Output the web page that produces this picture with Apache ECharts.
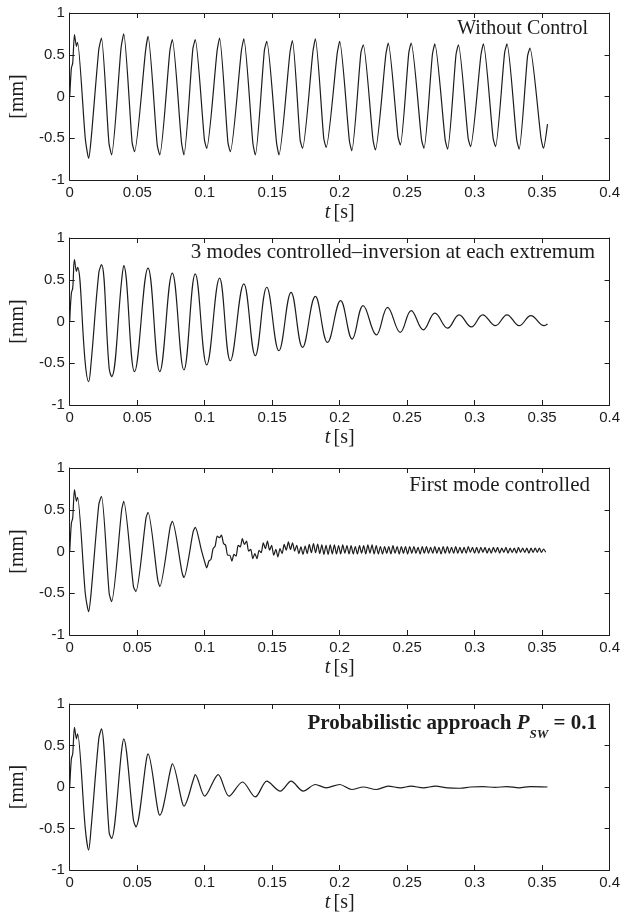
<!DOCTYPE html>
<html>
<head>
<meta charset="utf-8">
<script src="https://cdn.jsdelivr.net/npm/echarts/dist/echarts.min.js"></script>
<style>
html,body{margin:0;padding:0;background:#fff;}
#c{width:623px;height:921px;}
</style>
</head>
<body>
<div id="c"></div>
<script>
// ---------------- data ----------------
const xTicks = [0, 0.05, 0.1, 0.15, 0.2, 0.25, 0.3, 0.35, 0.4];
const yTicks = [-1, -0.5, 0, 0.5, 1];
const panelTitles = [
  'Without Control',
  '3 modes controlled\u2013inversion at each extremum',
  'First mode controlled',
  'Probabilistic approach P_SW = 0.1'
];

// Panel 1: without control  [t (s), displacement (mm)]
const noControl = [
 [0,0],[0.0012,0.34],[0.0022,0.40],[0.0035,0.74],[0.0050,0.60],[0.0058,0.65],[0.0115,-0.50],[0.0140,-0.74],[0.0158,-0.52],
 [0.0215,0.56],[0.0235,0.70],[0.0290,-0.55],[0.0310,-0.70],
 [0.0380,0.58],[0.0400,0.75],[0.0462,-0.55],[0.0480,-0.66],
 [0.0562,0.55],[0.0580,0.72],[0.0648,-0.58],[0.0667,-0.70],
 [0.0742,0.55],[0.0760,0.68],[0.0828,-0.55],[0.0846,-0.70],
 [0.0912,0.57],[0.0930,0.68],[0.0998,-0.52],[0.1015,-0.62],
 [0.1092,0.55],[0.1110,0.70],[0.1172,-0.55],[0.1190,-0.66],
 [0.1272,0.55],[0.1290,0.69],[0.1357,-0.56],[0.1375,-0.70],
 [0.1442,0.55],[0.1460,0.66],[0.1532,-0.55],[0.1550,-0.70],
 [0.1632,0.53],[0.1650,0.67],[0.1707,-0.52],[0.1725,-0.62],
 [0.1802,0.54],[0.1820,0.69],[0.1882,-0.50],[0.1900,-0.61],
 [0.1982,0.52],[0.2000,0.66],[0.2072,-0.53],[0.2090,-0.65],
 [0.2157,0.52],[0.2175,0.62],[0.2247,-0.52],[0.2265,-0.64],
 [0.2342,0.50],[0.2360,0.64],[0.2432,-0.48],[0.2450,-0.58],
 [0.2512,0.52],[0.2530,0.64],[0.2607,-0.52],[0.2625,-0.62],
 [0.2687,0.50],[0.2705,0.63],[0.2782,-0.52],[0.2800,-0.63],
 [0.2862,0.50],[0.2880,0.62],[0.2952,-0.50],[0.2970,-0.60],
 [0.3047,0.50],[0.3065,0.63],[0.3137,-0.50],[0.3155,-0.60],
 [0.3222,0.52],[0.3240,0.63],[0.3312,-0.52],[0.3330,-0.63],
 [0.3392,0.48],[0.3410,0.58],[0.3492,-0.50],[0.3510,-0.62],
 [0.3540,-0.33]
];

// Panel 2: 3 modes controlled, inversion at each extremum
const threeModes = [
 [0,0],[0.0012,0.34],[0.0022,0.40],[0.0035,0.74],[0.0050,0.60],[0.0058,0.65],[0.0115,-0.50],[0.0140,-0.72],[0.0158,-0.50],
 [0.0215,0.58],[0.0235,0.68],[0.0292,-0.56],[0.0310,-0.66],
 [0.0385,0.50],[0.0400,0.67],[0.0480,-0.60],[0.0580,0.64],[0.0667,-0.60],[0.0760,0.58],[0.0846,-0.58],
 [0.0930,0.57],[0.1015,-0.52],[0.1110,0.52],[0.1190,-0.47],[0.1290,0.45],[0.1375,-0.41],[0.1460,0.41],
 [0.1550,-0.35],[0.1640,0.35],[0.1725,-0.31],[0.1820,0.30],[0.1910,-0.25],[0.2007,0.25],[0.2093,-0.21],
 [0.2174,0.19],[0.2272,-0.16],[0.2355,0.17],[0.2449,-0.13],[0.2530,0.13],[0.2620,-0.10],[0.2706,0.10],
 [0.2800,-0.08],[0.2885,0.08],[0.2976,-0.065],[0.3060,0.08],[0.3154,-0.05],[0.3240,0.08],[0.3330,-0.05],
 [0.3417,0.07],[0.3515,-0.05],[0.3540,-0.03]
];

// Panel 3: first mode controlled (early part)
const firstModeEarly = [
 [0,0],[0.0012,0.34],[0.0022,0.40],[0.0035,0.74],[0.0050,0.60],[0.0058,0.65],[0.0115,-0.50],[0.0140,-0.72],[0.0158,-0.50],
 [0.0215,0.56],[0.0235,0.66],[0.0292,-0.50],[0.0310,-0.60],
 [0.0385,0.50],[0.0400,0.60],[0.0472,-0.42],[0.0490,-0.48],
 [0.0565,0.40],[0.0580,0.47],[0.0652,-0.34],[0.0667,-0.42],
 [0.0745,0.30],[0.0760,0.36],[0.0832,-0.25],[0.0846,-0.31],
 [0.0915,0.24],[0.0930,0.29],[0.0975,0.02]
];
// Panel 3: later part, sampled every 0.00155 s from 0.100 s (fast residual mode)
const firstModeLateStart = 0.100;
const firstModeLateStep = 0.00155;
const firstModeLate = [
 -0.125,-0.195,-0.115,-0.095,0.035,0.065,0.185,0.165,0.195,0.095,
 0.075,-0.045,-0.045,-0.115,-0.035,-0.055,0.075,0.055,0.155,0.085,
 0.125,0.005,0.025,-0.085,-0.025,-0.085,0.015,-0.015,0.105,0.035,
 0.125,0.015,0.075,-0.045,0.025,-0.065,0.035,-0.025,0.085,0.015,
 0.115,0.025,0.105,0.005,0.075,-0.025,0.055,-0.035,0.065,-0.025,
 0.085,-0.015,0.095,-0.015,0.09,-0.025,0.08,-0.035,0.075,-0.035,
 0.08,-0.03,0.08,-0.03,0.07,-0.03,0.08,-0.02,0.07,-0.03,
 0.07,-0.03,0.06,-0.03,0.07,-0.02,0.07,-0.03,0.08,-0.02,
 0.08,-0.03,0.07,-0.03,0.06,-0.03,0.06,-0.02,0.06,-0.03,
 0.07,-0.02,0.06,-0.03,0.06,-0.02,0.06,-0.03,0.06,-0.02,
 0.06,-0.02,0.05,-0.03,0.06,-0.02,0.06,-0.02,0.05,-0.02,
 0.06,-0.02,0.05,-0.03,0.06,-0.02,0.06,-0.02,0.05,-0.02,
 0.06,-0.02,0.05,-0.02,0.05,-0.02,0.06,-0.01,0.05,-0.02,
 0.05,-0.02,0.05,-0.01,0.05,-0.02,0.04,-0.02,0.05,-0.01,
 0.05,-0.02,0.04,-0.01,0.05,-0.02,0.04,-0.01,0.04,-0.02,
 0.05,-0.01,0.04,-0.01,0.04,-0.02,0.04,-0.01,0.04,-0.01,
 0.04,-0.01,0.03,-0.01
];

// Panel 4: probabilistic approach P_SW = 0.1
const probabilistic = [
 [0,0],[0.0012,0.34],[0.0022,0.40],[0.0035,0.72],[0.0050,0.58],[0.0058,0.64],[0.0115,-0.50],[0.0140,-0.76],[0.0158,-0.50],
 [0.0215,0.58],[0.0235,0.70],[0.0292,-0.55],[0.0310,-0.62],
 [0.0385,0.45],[0.0400,0.58],[0.0472,-0.40],[0.0490,-0.48],
 [0.0568,0.33],[0.0580,0.40],[0.0652,-0.27],[0.0667,-0.34],
 [0.0748,0.22],[0.0760,0.28],[0.0832,-0.18],[0.0846,-0.23],
 [0.0918,0.10],[0.0930,0.15],[0.1000,-0.11],[0.1100,0.15],[0.1180,-0.11],[0.1280,0.06],[0.1375,-0.12],
 [0.1460,0.07],[0.1560,-0.05],[0.1640,0.07],[0.1730,-0.05],[0.1820,0.03],[0.1900,-0.01],[0.2000,0.03],
 [0.2090,-0.03],[0.2175,0.00],[0.2270,-0.03],[0.2360,0.01],[0.2450,-0.01],[0.2530,0.01],[0.2620,-0.01],
 [0.2710,0.01],[0.2800,-0.01],[0.2890,-0.015],[0.2970,0.0],[0.3060,0.005],[0.3150,-0.005],[0.3240,0.005],
 [0.3330,-0.01],[0.3410,0.005],[0.3540,0.0]
];

// ---------------- chart ----------------
const firstMode = firstModeEarly.concat(
  firstModeLate.map((v, i) => [firstModeLateStart + i * firstModeLateStep, v])
);
const panels = [noControl, threeModes, firstMode, probabilistic];
const smoothing = [0.22, 0.4, 0.25, 0.3];

const grids = [
  {left: 67, width: 544, top: 13, height: 167},
  {left: 67, width: 544, top: 238, height: 167},
  {left: 67, width: 544, top: 468, height: 167},
  {left: 67, width: 544, top: 704, height: 166}
];

const INK = '#1c1c1c';
const fmt = v => String(+(+v).toFixed(2));
const lineStyle = {color: INK, width: 1};
const tickFont = {fontFamily: 'Liberation Sans, Arial, sans-serif', fontSize: 15, color: INK};
const serif = 'Liberation Serif, Times New Roman, serif';

const xAxes = [], yAxes = [], series = [], titles = [];
grids.forEach((g, i) => {
  xAxes.push({
    gridIndex: i, type: 'value', position: 'bottom',
    min: xTicks[0], max: xTicks[xTicks.length - 1], interval: xTicks[1] - xTicks[0],
    axisLine: {show: true, onZero: false, lineStyle},
    axisTick: {show: true, inside: true, length: 5, lineStyle},
    axisLabel: Object.assign({margin: 5, formatter: fmt}, tickFont),
    splitLine: {show: false},
    name: '{i|t} {n|[s]}', nameLocation: 'middle', nameGap: 23,
    nameTextStyle: {
      rich: {
        i: {fontFamily: serif, fontStyle: 'italic', fontSize: 20, color: INK},
        n: {fontFamily: serif, fontSize: 20, color: INK}
      }
    }
  });
  xAxes.push({
    gridIndex: i, type: 'value', position: 'top',
    min: xTicks[0], max: xTicks[xTicks.length - 1], interval: xTicks[1] - xTicks[0],
    axisLine: {show: true, onZero: false, lineStyle},
    axisTick: {show: true, inside: true, length: 5, lineStyle},
    axisLabel: {show: false}, splitLine: {show: false}
  });
  yAxes.push({
    gridIndex: i, type: 'value', position: 'left',
    min: yTicks[0], max: yTicks[yTicks.length - 1], interval: yTicks[1] - yTicks[0],
    axisLine: {show: true, onZero: false, lineStyle},
    axisTick: {show: true, inside: true, length: 5, lineStyle},
    axisLabel: Object.assign({margin: 5, formatter: fmt}, tickFont),
    splitLine: {show: false},
    name: '[mm]', nameLocation: 'middle', nameGap: 31, nameRotate: 90,
    nameTextStyle: {fontFamily: serif, fontSize: 20, color: INK}
  });
  yAxes.push({
    gridIndex: i, type: 'value', position: 'right',
    min: yTicks[0], max: yTicks[yTicks.length - 1], interval: yTicks[1] - yTicks[0],
    axisLine: {show: true, onZero: false, lineStyle},
    axisTick: {show: true, inside: true, length: 5, lineStyle},
    axisLabel: {show: false}, splitLine: {show: false}
  });
  series.push({
    type: 'line', xAxisIndex: 2 * i, yAxisIndex: 2 * i,
    data: panels[i], showSymbol: false, symbol: 'none',
    smooth: smoothing[i], lineStyle: {color: INK, width: 1.2},
    clip: true, animation: false
  });
});

const titleStyle = {fontFamily: serif, fontSize: 21, fontWeight: 'normal', color: INK};
titles.push({text: panelTitles[0], right: 35, top: 19, padding: 0, textStyle: Object.assign({}, titleStyle, {fontSize: 20})});
titles.push({text: panelTitles[1], right: 28, top: 242, padding: 0, textStyle: titleStyle});
titles.push({text: panelTitles[2], right: 33, top: 475, padding: 0, textStyle: titleStyle});
const pParts = panelTitles[3].split(' P_SW ');
titles.push({
  text: '{b|' + pParts[0] + ' }{p|P}{s|SW}{b| ' + pParts[1] + '}',
  right: 26, top: 711, padding: 0,
  textStyle: {
    rich: {
      b: {fontFamily: serif, fontSize: 21, fontWeight: 'bold', color: INK, lineHeight: 26, verticalAlign: 'middle'},
      p: {fontFamily: serif, fontSize: 21, fontWeight: 'bold', fontStyle: 'italic', color: INK, lineHeight: 26, verticalAlign: 'middle'},
      s: {fontFamily: serif, fontSize: 13, fontWeight: 'bold', fontStyle: 'italic', color: INK, lineHeight: 13, verticalAlign: 'bottom', padding: [0, 0, -4, 0]}
    }
  }
});

const chart = echarts.init(document.getElementById('c'), null, {renderer: 'canvas'});
chart.setOption({
  animation: false,
  backgroundColor: '#fff',
  title: titles,
  grid: grids,
  xAxis: xAxes,
  yAxis: yAxes,
  series: series
});
</script>
</body>
</html>
